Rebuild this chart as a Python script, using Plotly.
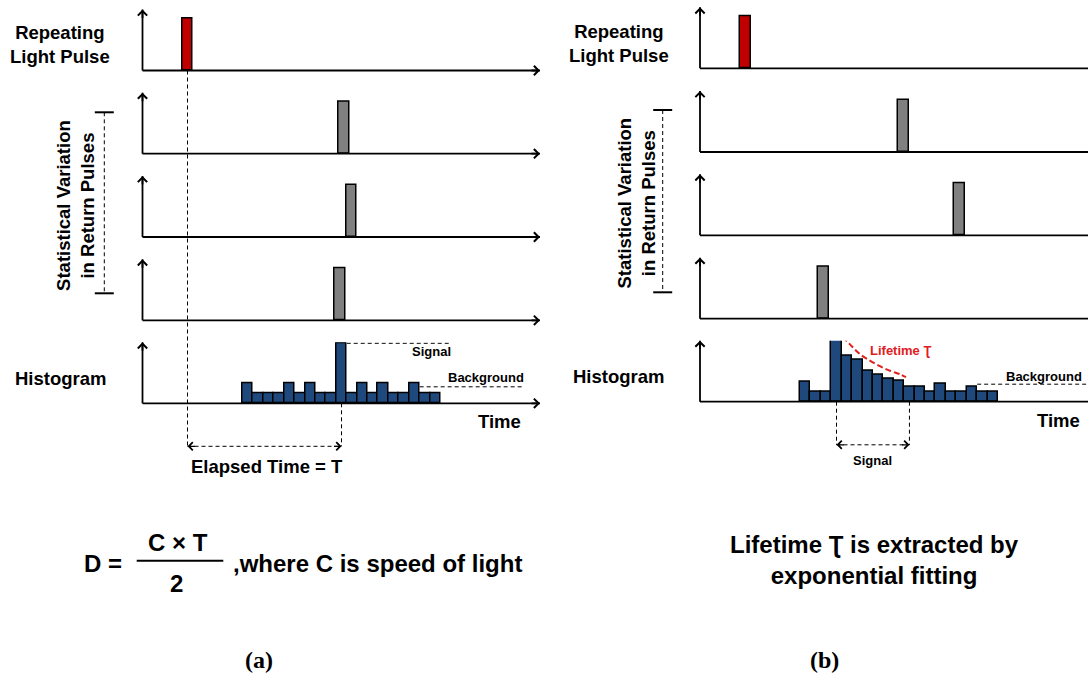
import plotly.graph_objects as go

W, H = 1088, 673

# ---------------- data ----------------
bin_counts_a = [2, 1, 1, 1, 2, 1, 2, 1, 1, 6, 1, 2, 1, 2, 1, 1, 2, 1, 1]
bin_counts_b = [2, 1, 1, 6.2, 4.6, 4.2, 3.1, 2.7, 2.3, 2.1, 1.5, 1.5, 1, 1.8, 1, 1, 1.5, 1, 1]
first_bin_time = 9.6
bin_size = 1.0
laser_time_a = 4.32
return_times_a = [19.35, 20.08, 18.95]
laser_time_b = 4.37
return_times_b = [19.52, 24.9, 11.87]
pulse_height = 5.2
pulse_duration = 1.0
background_level_a = 1.65
background_level_b = 1.75
signal_window_bins_b = [4, 11]
fit_times_b = [13.69, 14.56, 15.36, 16.31, 17.27, 18.23, 19.19, 19.77]
fit_counts_b = [6.5, 5.55, 4.75, 4.1, 3.55, 3.1, 2.75, 2.45]

# ---------------- layout constants ----------------
SANS = "Liberation Sans, Arial, sans-serif"
SERIF = "Liberation Serif, Times New Roman, serif"
PX_PER_T = 10.42
AXIS_TOP = 6.1
AXIS_H = 61
BLUE = "#1F497D"
RED = "#C00000"
GRAY = "#808080"
FIT_RED = "#E0201E"
DASH = "4px,3px"

cols = {
    "a": dict(x0=142.5, xend=540.0, bases=[70.5, 153.7, 237.0, 320.3, 403.3]),
    "b": dict(x0=700.0, xend=1094.0, bases=[68.3, 152.0, 235.3, 318.7, 401.7]),
}


def px(x):
    return x / W


def py(y):
    return 1 - y / H


fig = go.Figure()
shapes = []
annotations = []
axes = {}


def aid(n, letter):
    return letter if n == 1 else f"{letter}{n}"


def seg(x0, y0, x1, y1, width=1.8, dash=None, color="black", xref="paper", yref="paper"):
    shapes.append(dict(type="line", x0=x0, y0=y0, x1=x1, y1=y1, xref=xref, yref=yref,
                       line=dict(color=color, width=width, dash=dash), layer="above"))


def head(x, y, dx, dy, width=1.8, size=1.0, xref="paper", yref="paper"):
    annotations.append(dict(x=x, y=y, xref=xref, yref=yref, ax=dx, ay=dy,
                            axref="pixel", ayref="pixel", text="", showarrow=True,
                            arrowhead=4, arrowsize=size, arrowwidth=width,
                            arrowcolor="black", standoff=0))


def label(text, x, y, size, color="black", family=SANS, angle=0, bold=True, xanchor="center"):
    annotations.append(dict(text=f"<b>{text}</b>" if bold else text, x=px(x), y=py(y),
                            xref="paper", yref="paper", showarrow=False, xanchor=xanchor,
                            yanchor="middle", textangle=angle,
                            font=dict(size=size, color=color, family=family)))


# ---------------- panels / axes ----------------
panel_ids = {}
n = 0
for key in ["a", "b"]:
    c = cols[key]
    right_px = min(c["xend"], W)
    for row, base in enumerate(c["bases"]):
        n += 1
        panel_ids[(key, row)] = n
        axes["xaxis" if n == 1 else f"xaxis{n}"] = dict(
            domain=[px(c["x0"]), px(right_px)], range=[0, (right_px - c["x0"]) / PX_PER_T],
            visible=False, fixedrange=True, anchor=aid(n, "y"))
        axes["yaxis" if n == 1 else f"yaxis{n}"] = dict(
            domain=[py(base), py(base - AXIS_H)], range=[0, AXIS_TOP],
            visible=False, fixedrange=True, anchor=aid(n, "x"))
        # drawn axes with arrow heads
        seg(px(c["x0"]), py(base), px(c["x0"]), py(base - AXIS_H))
        seg(px(c["x0"]), py(base), px(c["xend"]), py(base))
        head(px(c["x0"]), py(base - AXIS_H), 0, 10)
        head(px(c["xend"]), py(base), -10, 0)


def add_bars(key, row, xs, ys, color, width):
    k = panel_ids[(key, row)]
    fig.add_trace(go.Bar(x=xs, y=ys, width=width, base=0,
                         marker=dict(color=color, line=dict(color="black", width=1.5)),
                         xaxis=aid(k, "x"), yaxis=aid(k, "y"), showlegend=False,
                         hoverinfo="skip"))


bin_centers = [first_bin_time + (i + 0.5) * bin_size for i in range(len(bin_counts_a))]

# column (a)
add_bars("a", 0, [laser_time_a], [pulse_height], RED, [pulse_duration])
for r, t in enumerate(return_times_a):
    add_bars("a", r + 1, [t], [pulse_height], GRAY, [pulse_duration])
add_bars("a", 4, bin_centers, bin_counts_a, BLUE, [bin_size] * len(bin_counts_a))

# column (b)
add_bars("b", 0, [laser_time_b], [pulse_height], RED, [pulse_duration])
for r, t in enumerate(return_times_b):
    add_bars("b", r + 1, [t], [pulse_height], GRAY, [pulse_duration])
add_bars("b", 4, bin_centers, bin_counts_b, BLUE, [bin_size] * len(bin_counts_b))

kb = panel_ids[("b", 4)]
fig.add_trace(go.Scatter(x=fit_times_b, y=fit_counts_b, mode="lines",
                         line=dict(color=FIT_RED, width=2, dash="6px,3px", shape="spline"),
                         xaxis=aid(kb, "x"), yaxis=aid(kb, "y"), showlegend=False,
                         hoverinfo="skip"))

# ---------------- annotations: column (a) ----------------
ka1 = panel_ids[("a", 0)]
ka5 = panel_ids[("a", 4)]
xa1, xa5, ya5 = aid(ka1, "x"), aid(ka5, "x"), aid(ka5, "y")
peak_idx = bin_counts_a.index(max(bin_counts_a))
t_peak = bin_centers[peak_idx]
arrow_y_a = 446.3
seg(laser_time_a, py(cols["a"]["bases"][0]), laser_time_a, py(arrow_y_a), width=1, dash=DASH, xref=xa1)
seg(t_peak, py(cols["a"]["bases"][4]), t_peak, py(arrow_y_a), width=1, dash=DASH, xref=xa5)
seg(laser_time_a, py(arrow_y_a), t_peak, py(arrow_y_a), width=1, dash=DASH, xref=xa5)
head(laser_time_a, py(arrow_y_a), 9, 0, width=1.2, size=1.3, xref=xa5)
head(t_peak, py(arrow_y_a), -9, 0, width=1.2, size=1.3, xref=xa5)
seg(first_bin_time + (peak_idx + 1) * bin_size, max(bin_counts_a), 29.6, max(bin_counts_a),
    width=1, dash=DASH, xref=xa5, yref=ya5)
seg(first_bin_time + 17 * bin_size, background_level_a, 36.6, background_level_a,
    width=1, dash=DASH, xref=xa5, yref=ya5)

# ---------------- annotations: column (b) ----------------
xb5, yb5 = aid(kb, "x"), aid(kb, "y")
arrow_y_b = 444.8
sw = [first_bin_time + (b - 0.5) * bin_size for b in signal_window_bins_b]
for t in sw:
    seg(t, py(cols["b"]["bases"][4]), t, py(arrow_y_b), width=1, dash=DASH, xref=xb5)
seg(sw[0], py(arrow_y_b), sw[1], py(arrow_y_b), width=1, dash=DASH, xref=xb5)
head(sw[0], py(arrow_y_b), 9, 0, width=1.2, size=1.3, xref=xb5)
head(sw[1], py(arrow_y_b), -9, 0, width=1.2, size=1.3, xref=xb5)
seg(first_bin_time + 17 * bin_size, background_level_b, (W - cols["b"]["x0"]) / PX_PER_T,
    background_level_b, width=1, dash=DASH, xref=xb5, yref=yb5)

# brackets
for bx, btop, bbot in [(104.3, 112.3, 293.3), (662.7, 110.0, 292.3)]:
    seg(px(bx), py(btop), px(bx), py(bbot), width=1, dash=DASH)
    seg(px(bx - 9.5), py(btop), px(bx + 9.5), py(btop), width=2)
    seg(px(bx - 9.5), py(bbot), px(bx + 9.5), py(bbot), width=2)

# fraction bar
seg(px(136.7), py(560.7), px(223.3), py(560.7), width=2)

# ---------------- texts ----------------
L = 18.5
label("Repeating<br>Light Pulse", 60, 45, L)
label("Repeating<br>Light Pulse", 618.5, 44, L)
label("Statistical Variation<br>in Return Pulses", 75.4, 205.5, L, angle=-90)
label("Statistical Variation<br>in Return Pulses", 635.5, 203, L, angle=-90)
label("Histogram", 61, 378, L)
label("Histogram", 618.5, 376.7, L)
label("Signal", 431, 351.7, 13)
label("Background", 486, 377.3, 13)
label("Background", 1044, 376, 13)
label("Lifetime \u01ae", 900, 350.7, 13, color=FIT_RED)
label("Time", 499, 421.7, L)
label("Time", 1058.8, 420, L)
label("Elapsed Time = T", 267, 466.7, L)
label("Signal", 872.9, 460, 13)

label("D =", 103, 563.3, 24)
label("C \u00d7 T", 178.3, 542.7, 24)
label("2", 176.7, 583.3, 24)
label(",where C is speed of light", 231, 563.3, 24, xanchor="left")
label("Lifetime \u01ae is extracted by<br>exponential fitting", 874, 560, 24)
label("(a)", 259, 660, 24, family=SERIF)
label("(b)", 824, 660, 24, family=SERIF)

fig.update_layout(
    width=W, height=H, autosize=False,
    margin=dict(l=0, r=0, t=0, b=0),
    paper_bgcolor="white", plot_bgcolor="rgba(0,0,0,0)",
    barmode="overlay", bargap=0, showlegend=False,
    shapes=shapes, annotations=annotations,
    **axes,
)

fig.write_html("out.html", config={"displayModeBar": False})
